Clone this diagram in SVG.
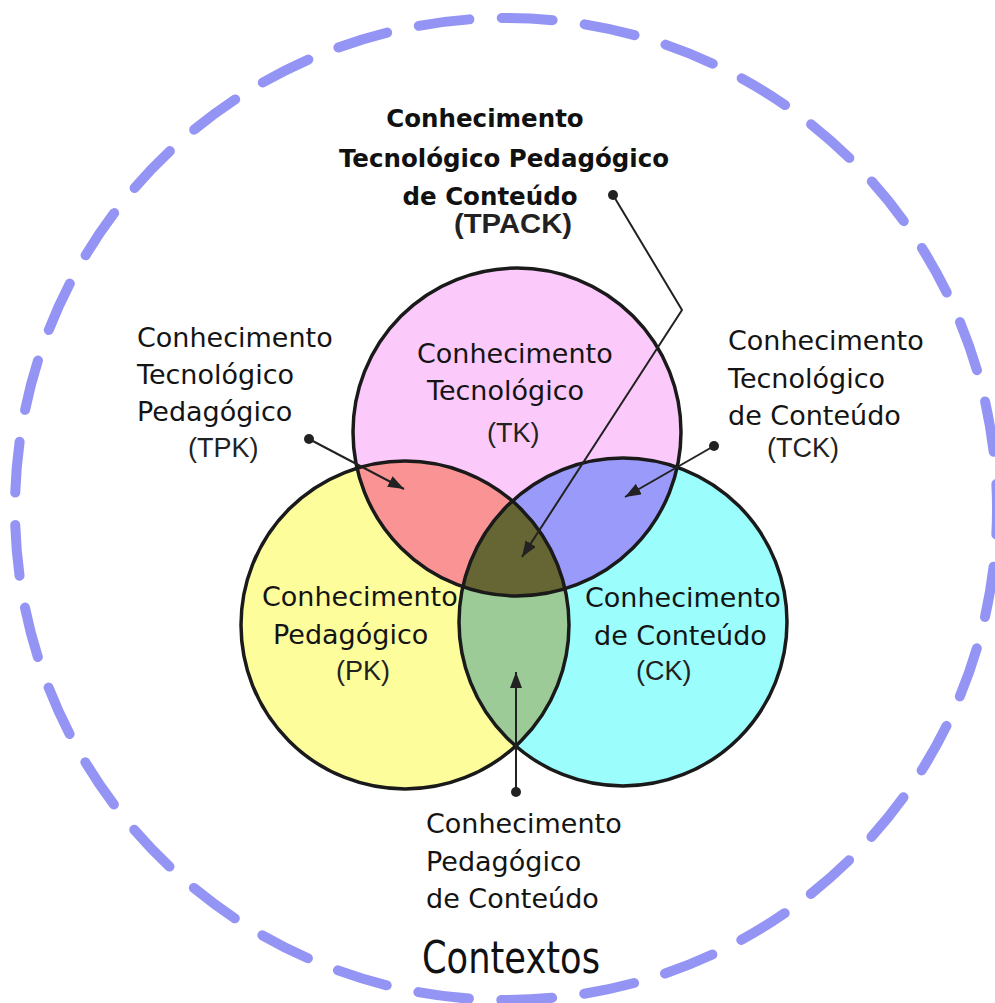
<svg xmlns="http://www.w3.org/2000/svg" width="995" height="1003" viewBox="0 0 995 1003">
  <style>
    .lbl { font-family: "DejaVu Sans", Verdana, sans-serif; font-size: 27px; fill: #141414; }
    .big { font-family: "DejaVu Sans", Verdana, sans-serif; font-size: 44px; fill: #111; }
    .abbr { font-family: "Liberation Sans", Arial, sans-serif; font-size: 27px; fill: #222; }
    .title { font-family: "DejaVu Sans", Verdana, sans-serif; font-size: 24.5px; font-weight: bold; fill: #111; text-anchor: middle; }
    .ring { fill: none; stroke: #1a1a1a; stroke-width: 3.5; }
    .conn { fill: none; stroke: #222; stroke-width: 2; }
    .dot { fill: #222; }
  </style>
  <defs>
    <clipPath id="cTK"><circle cx="517" cy="432" r="164"/></clipPath>
    <clipPath id="cPK"><circle cx="405" cy="625" r="164"/></clipPath>
    <clipPath id="cCK"><circle cx="623" cy="622" r="164"/></clipPath>
    <marker id="ah" markerUnits="userSpaceOnUse" markerWidth="18" markerHeight="14" refX="16" refY="6" orient="auto">
      <path d="M0,0 L16,6 L0,12 z" fill="#222"/>
    </marker>
  </defs>
  <rect width="995" height="1003" fill="#ffffff"/>

  <g id="contextos">
    <circle cx="506" cy="509" r="491" fill="none" stroke="#9494f5" stroke-width="10" stroke-linecap="round" stroke-dasharray="51 32.38" stroke-dashoffset="25.5"/>
    <text class="big" x="422" y="973" textLength="178" lengthAdjust="spacingAndGlyphs">Contextos</text>
  </g>

  <g id="circles">
    <g id="tk-circle"><circle cx="517" cy="432" r="164" fill="#fbcafb"/></g>
    <g id="pk-circle"><circle cx="405" cy="625" r="164" fill="#fdfd9c"/></g>
    <g id="ck-circle"><circle cx="623" cy="622" r="164" fill="#9cfdfd"/></g>
    <g id="tpk-region" clip-path="url(#cTK)"><circle cx="405" cy="625" r="164" fill="#fa9494"/></g>
    <g id="tck-region" clip-path="url(#cTK)"><circle cx="623" cy="622" r="164" fill="#9a9afb"/></g>
    <g id="pck-region" clip-path="url(#cPK)"><circle cx="623" cy="622" r="164" fill="#9ccb98"/></g>
    <g id="tpack-region" clip-path="url(#cTK)"><g clip-path="url(#cPK)"><circle cx="623" cy="622" r="164" fill="#666634"/></g></g>
    <circle class="ring" cx="517" cy="432" r="164"/>
    <circle class="ring" cx="405" cy="625" r="164"/>
    <circle class="ring" cx="623" cy="622" r="164"/>
  </g>

  <g id="tk">
    <text class="lbl" x="417" y="363">Conhecimento</text>
    <text class="lbl" x="427" y="400">Tecnológico</text>
    <text class="abbr" x="487" y="442">(TK)</text>
  </g>
  <g id="pk">
    <text class="lbl" x="262" y="606">Conhecimento</text>
    <text class="lbl" x="273" y="644">Pedagógico</text>
    <text class="abbr" x="336" y="680">(PK)</text>
  </g>
  <g id="ck">
    <text class="lbl" x="585" y="607">Conhecimento</text>
    <text class="lbl" x="594" y="645">de Conteúdo</text>
    <text class="abbr" x="636" y="680">(CK)</text>
  </g>
  <g id="tpack">
    <text class="title" x="485" y="127">Conhecimento</text>
    <text class="title" x="504" y="167">Tecnológico Pedagógico</text>
    <text class="title" x="490" y="205">de Conteúdo</text>
    <text x="513" y="233" font-family="Liberation Sans, Arial, sans-serif" font-weight="bold" font-size="27" fill="#222" text-anchor="middle" textLength="118" lengthAdjust="spacingAndGlyphs">(TPACK)</text>
  </g>
  <g id="tpk">
    <text class="lbl" x="137" y="347">Conhecimento</text>
    <text class="lbl" x="137" y="384">Tecnológico</text>
    <text class="lbl" x="137" y="421">Pedagógico</text>
    <text class="abbr" x="188" y="457">(TPK)</text>
  </g>
  <g id="tck">
    <text class="lbl" x="728" y="350">Conhecimento</text>
    <text class="lbl" x="728" y="388">Tecnológico</text>
    <text class="lbl" x="728" y="425">de Conteúdo</text>
    <text class="abbr" x="767" y="457">(TCK)</text>
  </g>
  <g id="pck">
    <text class="lbl" x="426" y="833">Conhecimento</text>
    <text class="lbl" x="426" y="871">Pedagógico</text>
    <text class="lbl" x="426" y="908">de Conteúdo</text>
  </g>

  <g id="connectors">
    <polyline class="conn" points="613,195 682,310 522,557" marker-end="url(#ah)"/>
    <circle class="dot" cx="613" cy="195" r="5"/>
    <line class="conn" x1="309" y1="439" x2="404" y2="489" marker-end="url(#ah)"/>
    <circle class="dot" cx="309" cy="439" r="5"/>
    <line class="conn" x1="714" y1="446" x2="625" y2="497" marker-end="url(#ah)"/>
    <circle class="dot" cx="714" cy="446" r="5"/>
    <line class="conn" x1="516" y1="792" x2="516" y2="672" marker-end="url(#ah)"/>
    <circle class="dot" cx="516" cy="792" r="5"/>
  </g>
</svg>
